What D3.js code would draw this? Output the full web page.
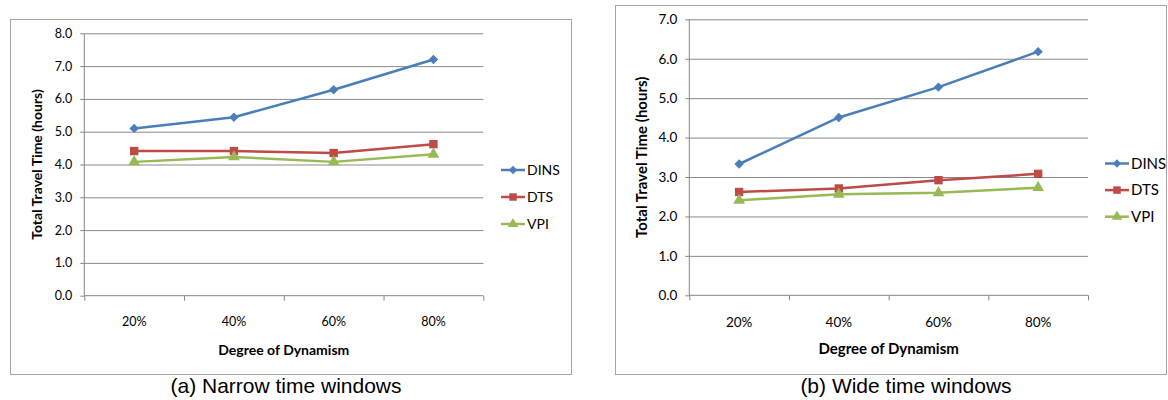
<!DOCTYPE html>
<html>
<head>
<meta charset="utf-8">
<script src="https://cdn.jsdelivr.net/npm/d3@7"></script>
<style>
  body { margin: 0; background: #fff; }
  svg { display: block; }
</style>
</head>
<body>
<svg id="chart" width="1168" height="400"></svg>
<script>
// data
var categories = ["20%", "40%", "60%", "80%"];
var seriesNames = ["DINS", "DTS", "VPI"];

var narrowDINS = [5.10, 5.44, 6.28, 7.20];
var narrowDTS = [4.41, 4.41, 4.35, 4.62];
var narrowVPI = [4.08, 4.23, 4.08, 4.31];
var narrowTicks = [0, 1, 2, 3, 4, 5, 6, 7, 8];

var wideDINS = [3.33, 4.51, 5.28, 6.18];
var wideDTS = [2.62, 2.71, 2.92, 3.08];
var wideVPI = [2.41, 2.56, 2.60, 2.73];
var wideTicks = [0, 1, 2, 3, 4, 5, 6, 7];

var colors = ["#4A7EBB", "#BE4B48", "#98B954"];
// excel style markers: diamond = square turned 45 degrees
var symbols = [d3.symbolSquare, d3.symbolSquare, d3.symbolTriangle];
var symbolRot = [45, 0, 0];
var symbolSizes = [44, 70, 60];

var svg = d3.select("#chart");

var panels = [
  {
    caption: "(a) Narrow time windows",
    series: [narrowDINS, narrowDTS, narrowVPI],
    ticks: narrowTicks,
    box: [10.5, 19.5, 571.5, 374.5],
    plot: [84.3, 33.3, 483.3, 295.7],
    font: 12.5, titleFont: 14, yTitleX: 37, xLabelY: 322, xTitleY: 350,
    legendX: 501, legendY: 170, legendStep: 27,
    captionX: 286
  },
  {
    caption: "(b) Wide time windows",
    series: [wideDINS, wideDTS, wideVPI],
    ticks: wideTicks,
    box: [615.5, 5.5, 1166.5, 374.5],
    plot: [689.3, 19.3, 1088, 295.3],
    font: 13.5, titleFont: 15, yTitleX: 642, xLabelY: 322, xTitleY: 349,
    legendX: 1105, legendY: 163.5, legendStep: 26.6,
    captionX: 906
  }
];

panels.forEach(function(p) {
  var g = svg.append("g");
  var x0 = p.plot[0], y0 = p.plot[1], x1 = p.plot[2], y1 = p.plot[3];

  // chart area border
  g.append("rect")
    .attr("x", p.box[0]).attr("y", p.box[1])
    .attr("width", p.box[2] - p.box[0]).attr("height", p.box[3] - p.box[1])
    .attr("fill", "#fff").attr("stroke", "#a6a6a6").attr("stroke-width", 1);

  var x = d3.scaleBand().domain(categories).range([x0, x1]).padding(0);
  var xEdge = d3.scaleLinear().domain([0, categories.length]).range([x0, x1]);
  var y = d3.scaleLinear().domain([0, d3.max(p.ticks)]).range([y1, y0]);

  // gridlines
  g.append("g")
    .attr("transform", "translate(" + x0 + ",0)")
    .call(d3.axisLeft(y).tickValues(p.ticks.slice(1)).tickSize(-(x1 - x0)).tickFormat(""))
    .call(function(a) { a.select(".domain").remove(); })
    .call(function(a) { a.selectAll("line").attr("stroke", "#898989"); });

  // y axis
  var yAxis = g.append("g")
    .attr("transform", "translate(" + x0 + ",0)")
    .call(d3.axisLeft(y).tickValues(p.ticks).tickSize(4).tickPadding(8).tickFormat(d3.format(".1f")));
  yAxis.select(".domain").attr("stroke", "#868686").attr("d", "M0," + y0 + "V" + y1);
  yAxis.selectAll("line").attr("stroke", "#868686");
  yAxis.selectAll("text").attr("font-family", "Lato").attr("font-size", p.font).attr("fill", "#000");

  // x axis line and ticks at category edges
  var xAxis = g.append("g")
    .attr("transform", "translate(0," + y1 + ")")
    .call(d3.axisBottom(xEdge).tickValues(d3.range(categories.length + 1)).tickSize(5).tickFormat(""));
  xAxis.select(".domain").attr("stroke", "#868686").attr("d", "M" + x0 + ",0H" + x1);
  xAxis.selectAll("line").attr("stroke", "#868686");

  // category labels
  var xLab = g.append("g")
    .attr("transform", "translate(0," + y1 + ")")
    .call(d3.axisBottom(x).tickSize(0).tickPadding(0));
  xLab.select(".domain").remove();
  xLab.selectAll("text")
    .attr("y", p.xLabelY - y1).attr("dy", "0.35em")
    .attr("font-family", "Lato").attr("font-size", p.font).attr("fill", "#000");

  // axis titles
  g.append("text")
    .attr("transform", "translate(" + p.yTitleX + "," + (y0 + y1) / 2 + ") rotate(-90)")
    .attr("text-anchor", "middle").attr("dy", "0.35em")
    .attr("font-family", "Lato").attr("font-weight", "bold").attr("font-size", p.titleFont)
    .text("Total Travel Time (hours)");

  g.append("text")
    .attr("x", (x0 + x1) / 2).attr("y", p.xTitleY).attr("dy", "0.35em")
    .attr("text-anchor", "middle")
    .attr("font-family", "Lato").attr("font-weight", "bold").attr("font-size", p.titleFont)
    .text("Degree of Dynamism");

  // lines and markers
  var line = d3.line()
    .x(function(d, i) { return x(categories[i]) + x.bandwidth() / 2; })
    .y(function(d) { return y(d); });

  p.series.forEach(function(values, s) {
    g.append("path")
      .datum(values)
      .attr("d", line)
      .attr("fill", "none")
      .attr("stroke", colors[s])
      .attr("stroke-width", 2.5)
      .attr("stroke-linejoin", "round");

    g.selectAll(".m" + s)
      .data(values)
      .enter().append("path")
      .attr("class", "m" + s)
      .attr("transform", function(d, i) {
        return "translate(" + (x(categories[i]) + x.bandwidth() / 2) + "," + y(d) + ") rotate(" + symbolRot[s] + ")";
      })
      .attr("d", d3.symbol().type(symbols[s]).size(symbolSizes[s]))
      .attr("fill", colors[s]);
  });

  // legend
  var leg = g.selectAll(".legend")
    .data(seriesNames)
    .enter().append("g")
    .attr("transform", function(d, i) { return "translate(" + p.legendX + "," + (p.legendY + i * p.legendStep) + ")"; });
  leg.append("line")
    .attr("x1", 0).attr("x2", 24)
    .attr("stroke", function(d, i) { return colors[i]; })
    .attr("stroke-width", 2.5);
  leg.append("path")
    .attr("transform", function(d, i) { return "translate(12,0) rotate(" + symbolRot[i] + ")"; })
    .attr("d", function(d, i) { return d3.symbol().type(symbols[i]).size(symbolSizes[i] * 0.8)(); })
    .attr("fill", function(d, i) { return colors[i]; });
  leg.append("text")
    .attr("x", 26).attr("dy", "0.35em")
    .attr("font-family", "Lato").attr("font-size", p.font + 1.5).attr("fill", "#000")
    .text(function(d) { return d; });

  // caption below panel
  svg.append("text")
    .attr("x", p.captionX).attr("y", 393)
    .attr("text-anchor", "middle")
    .attr("font-family", "Liberation Sans").attr("font-size", 21).attr("fill", "#000")
    .text(p.caption);
});
</script>
</body>
</html>
